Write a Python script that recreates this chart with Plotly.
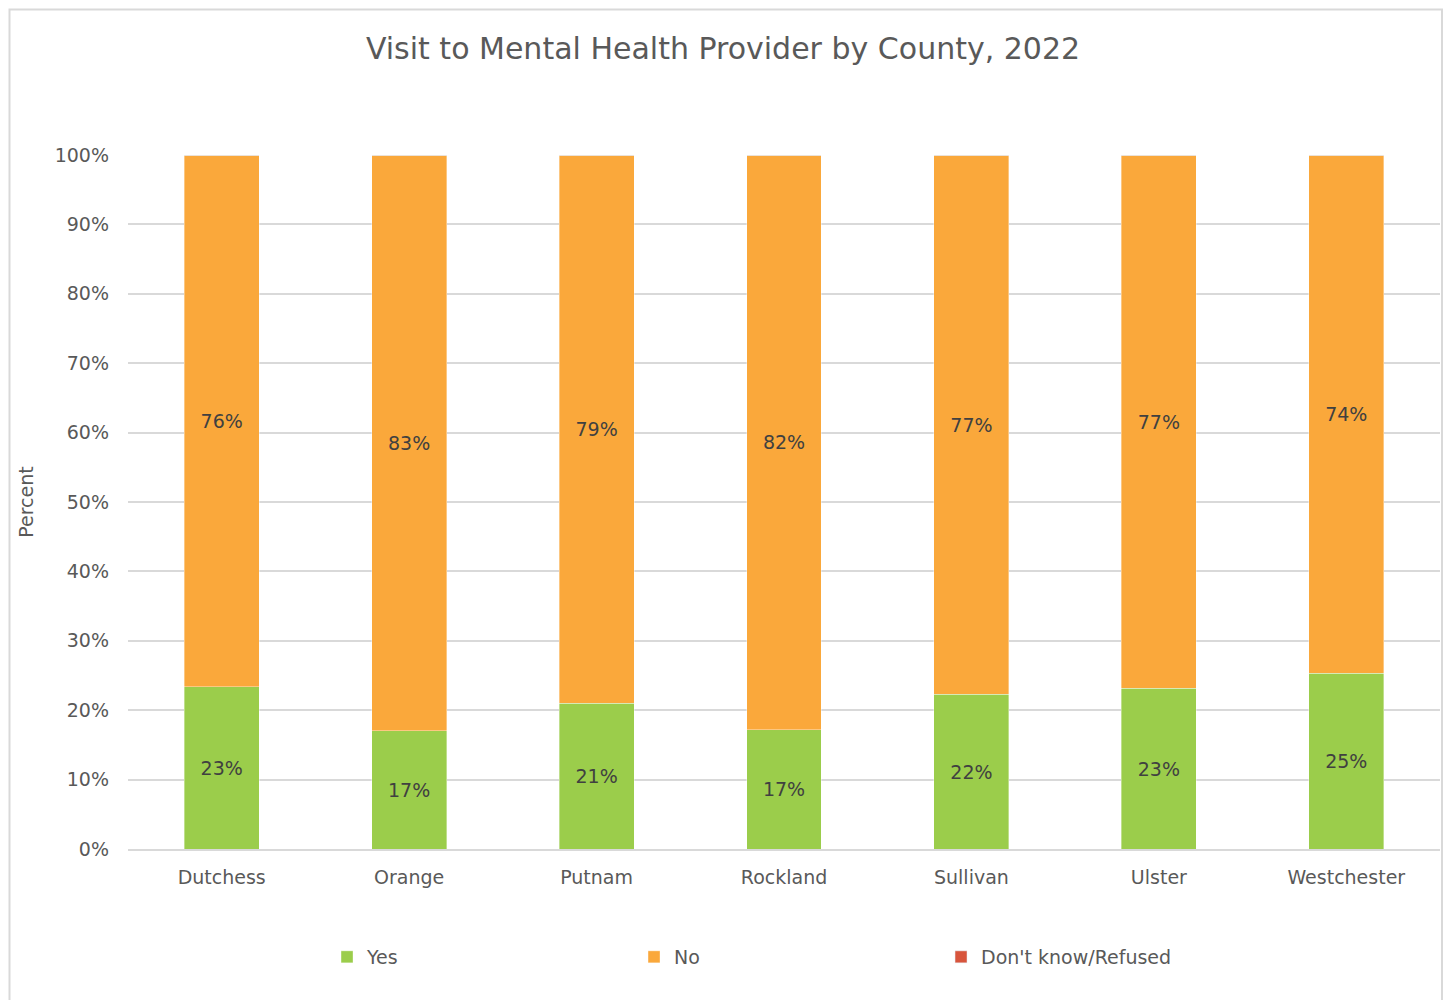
import plotly.graph_objects as go

counties = ["Dutchess", "Orange", "Putnam", "Rockland", "Sullivan", "Ulster", "Westchester"]
yes_vals = [23.3, 17.0, 20.9, 17.1, 22.2, 23.1, 25.2]
no_vals = [76.4, 82.6, 78.7, 82.4, 77.3, 76.6, 74.4]
dk_vals = [0, 0, 0, 0, 0, 0, 0]
y_ticks = [0, 10, 20, 30, 40, 50, 60, 70, 80, 90, 100]
y_tick_labels = [f"{t}%" for t in y_ticks]

FONT = "DejaVu Sans"
GREEN = "#9BCD4B"
ORANGE = "#FAA83B"
RED = "#D8553C"
LABEL = "#404040"
TICK = "#595959"

W, H = 1443, 992  # page adds an 8px body margin
L, T = 120, 147
PW, PH = 1312, 694

fig = go.Figure()
fig.add_trace(go.Bar(
    name="Yes", x=counties, y=yes_vals, marker_color=GREEN,
    marker_line=dict(color="rgba(255,255,255,0.6)", width=0.6),
    text=[f"{v:.0f}%" for v in yes_vals], textposition="inside",
    insidetextanchor="middle", textangle=0,
    textfont=dict(family=FONT, size=19, color=LABEL),
))
fig.add_trace(go.Bar(
    name="No", x=counties, y=no_vals, marker_color=ORANGE,
    marker_line=dict(color="rgba(255,255,255,0.6)", width=0.6),
    text=[f"{v:.0f}%" for v in no_vals], textposition="inside",
    insidetextanchor="middle", textangle=0,
    textfont=dict(family=FONT, size=19, color=LABEL),
))
fig.add_trace(go.Bar(
    name="Don't know/Refused", x=counties, y=dk_vals, marker_color=RED,
    textposition="none",
))

fig.update_layout(
    barmode="stack",
    barnorm="percent",
    bargap=0.6,
    width=W, height=H,
    margin=dict(l=L, r=W - L - PW, t=T, b=H - T - PH),
    paper_bgcolor="white", plot_bgcolor="white",
    font=dict(family=FONT, color=TICK, size=19),
    title=dict(
        text="Visit to Mental Health Provider by County, 2022",
        x=(723 - 8) / W, xref="container", xanchor="center",
        y=1 - 40 / H, yref="container", yanchor="middle",
        font=dict(family=FONT, size=30, color=TICK),
    ),
    legend=dict(
        orientation="h", x=0.1517, xanchor="left", y=-0.1556, yanchor="middle",
        entrywidth=262, entrywidthmode="pixels",
        font=dict(family=FONT, size=19, color=TICK),
        traceorder="normal", itemclick=False,
    ),
    showlegend=True,
    uniformtext=dict(mode="show", minsize=8),
)

fig.update_xaxes(
    showgrid=False, showline=True, linecolor="#D9D9D9", linewidth=1.5,
    ticks="", tickfont=dict(family=FONT, size=19, color=TICK),
    ticklabelstandoff=10,
)
fig.update_yaxes(
    range=[0, 100], tickvals=y_ticks, ticktext=y_tick_labels,
    showgrid=True, gridcolor="#D9D9D9", gridwidth=1.5,
    zeroline=False, ticks="", ticklabelstandoff=18,
    tickfont=dict(family=FONT, size=19, color=TICK),
    title=dict(text="Percent", font=dict(family=FONT, size=19, color=TICK), standoff=16),
)

# outer chart border (kept inside the figure area)
fig.add_shape(
    type="rect", xref="paper", yref="paper",
    x0=(9.5 - 128) / PW, x1=(1442 - 128) / PW,
    y0=(849 - 1010) / PH, y1=(849 - 9.5) / PH,
    line=dict(color="#D9D9D9", width=2), fillcolor="rgba(0,0,0,0)", layer="below",
)

fig.write_html("out.html")
